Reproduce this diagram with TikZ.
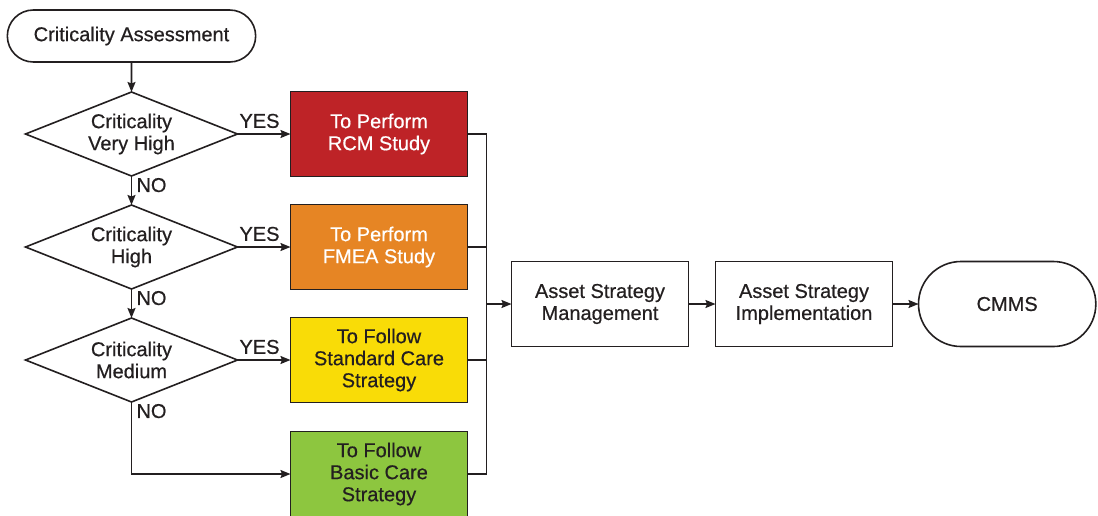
\documentclass[tikz,border=0pt]{standalone}
\usepackage{fontspec}
\setmainfont{Liberation Sans}[UprightFeatures={FakeBold=0.5}]
\usepackage{xcolor}
\usepackage{tikz}
\usetikzlibrary{shapes.geometric, shapes.misc, arrows.meta, positioning, calc}
\definecolor{inkdark}{RGB}{35, 31, 32}
\definecolor{critred}{RGB}{190, 35, 39}
\definecolor{critorange}{RGB}{230, 133, 36}
\definecolor{crityellow}{RGB}{249, 220, 7}
\definecolor{critgreen}{RGB}{141, 198, 63}

\begin{document}
\begin{tikzpicture}[
  x=1pt, y=1pt,
  node distance=29pt,
  every node/.style={font=\fontsize{20}{22}\selectfont, text=inkdark, outer sep=0pt},
  decision/.style={diamond, draw=inkdark, line width=1.6pt, aspect=2.5, inner sep=0pt,
                   minimum width=212pt, minimum height=84pt, align=center},
  taskbox/.style={rectangle, draw=inkdark, line width=1.6pt, minimum width=177pt,
                  minimum height=85pt, align=center, inner sep=2pt},
  terminal/.style={rounded rectangle, draw=inkdark, line width=1.6pt, align=center},
  arrow/.style={-{Stealth[length=10pt, width=8pt, inset=1.5pt]}, line width=1.6pt, draw=inkdark},
  link/.style={line width=1.6pt, draw=inkdark},
  answer/.style={inner sep=2pt}
]
\useasboundingbox (0,0) rectangle (1098,-515);
\fill[white] (0,0) rectangle (1098,-515);
\clip (0,0) rectangle (1098,-515);

\node[terminal, minimum width=255pt, minimum height=52pt] (assess) at (131.5,-36) {Criticality Assessment};
\node[decision, below=30pt of assess] (d1) {Criticality\\Very High};
\node[decision, below=of d1] (d2) {Criticality\\High};
\node[decision, below=of d2] (d3) {Criticality\\Medium};

\node[taskbox, fill=critred, text=white, right=53pt of d1] (rcm) {To Perform\\RCM Study};
\node[taskbox, fill=critorange, text=white, right=53pt of d2] (fmea) {To Perform\\FMEA Study};
\node[taskbox, fill=crityellow, right=53pt of d3] (std) {To Follow\\Standard Care\\Strategy};
\node[taskbox, fill=critgreen, below=of std] (basic) {To Follow\\Basic Care\\Strategy};

\draw[arrow] (assess) -- (d1);
\draw[arrow] (d1.south) node[answer, anchor=north west, xshift=3pt] {NO} -- (d2.north);
\draw[arrow] (d2.south) node[answer, anchor=north west, xshift=3pt] {NO} -- (d3.north);
\draw[arrow] (d3.south) node[answer, anchor=north west, xshift=3pt] {NO} |- (basic.west);
\draw[arrow] (d1.east) node[answer, anchor=south west, yshift=4pt] {YES} -- (rcm.west);
\draw[arrow] (d2.east) node[answer, anchor=south west, yshift=4pt] {YES} -- (fmea.west);
\draw[arrow] (d3.east) node[answer, anchor=south west, yshift=4pt] {YES} -- (std.west);

% collecting line on the right of the coloured boxes
\coordinate (join) at ($(rcm.east)!0.5!(basic.east) + (19pt,0)$);
\draw[link] (rcm.east) -| (join);
\draw[link] (basic.east) -| (join);
\draw[link] (fmea.east) -- (fmea.east -| join);
\draw[link] (std.east) -- (std.east -| join);

\node[taskbox, right=25pt of join] (manage) {Asset Strategy\\Management};
\node[taskbox, right=27pt of manage] (impl) {Asset Strategy\\Implementation};
\node[terminal, minimum width=184pt, minimum height=85pt, right=26pt of impl] (cmms) {CMMS};

\draw[arrow] (join) -- (manage);
\draw[arrow] (manage) -- (impl);
\draw[arrow] (impl) -- (cmms);

\end{tikzpicture}
\end{document}
